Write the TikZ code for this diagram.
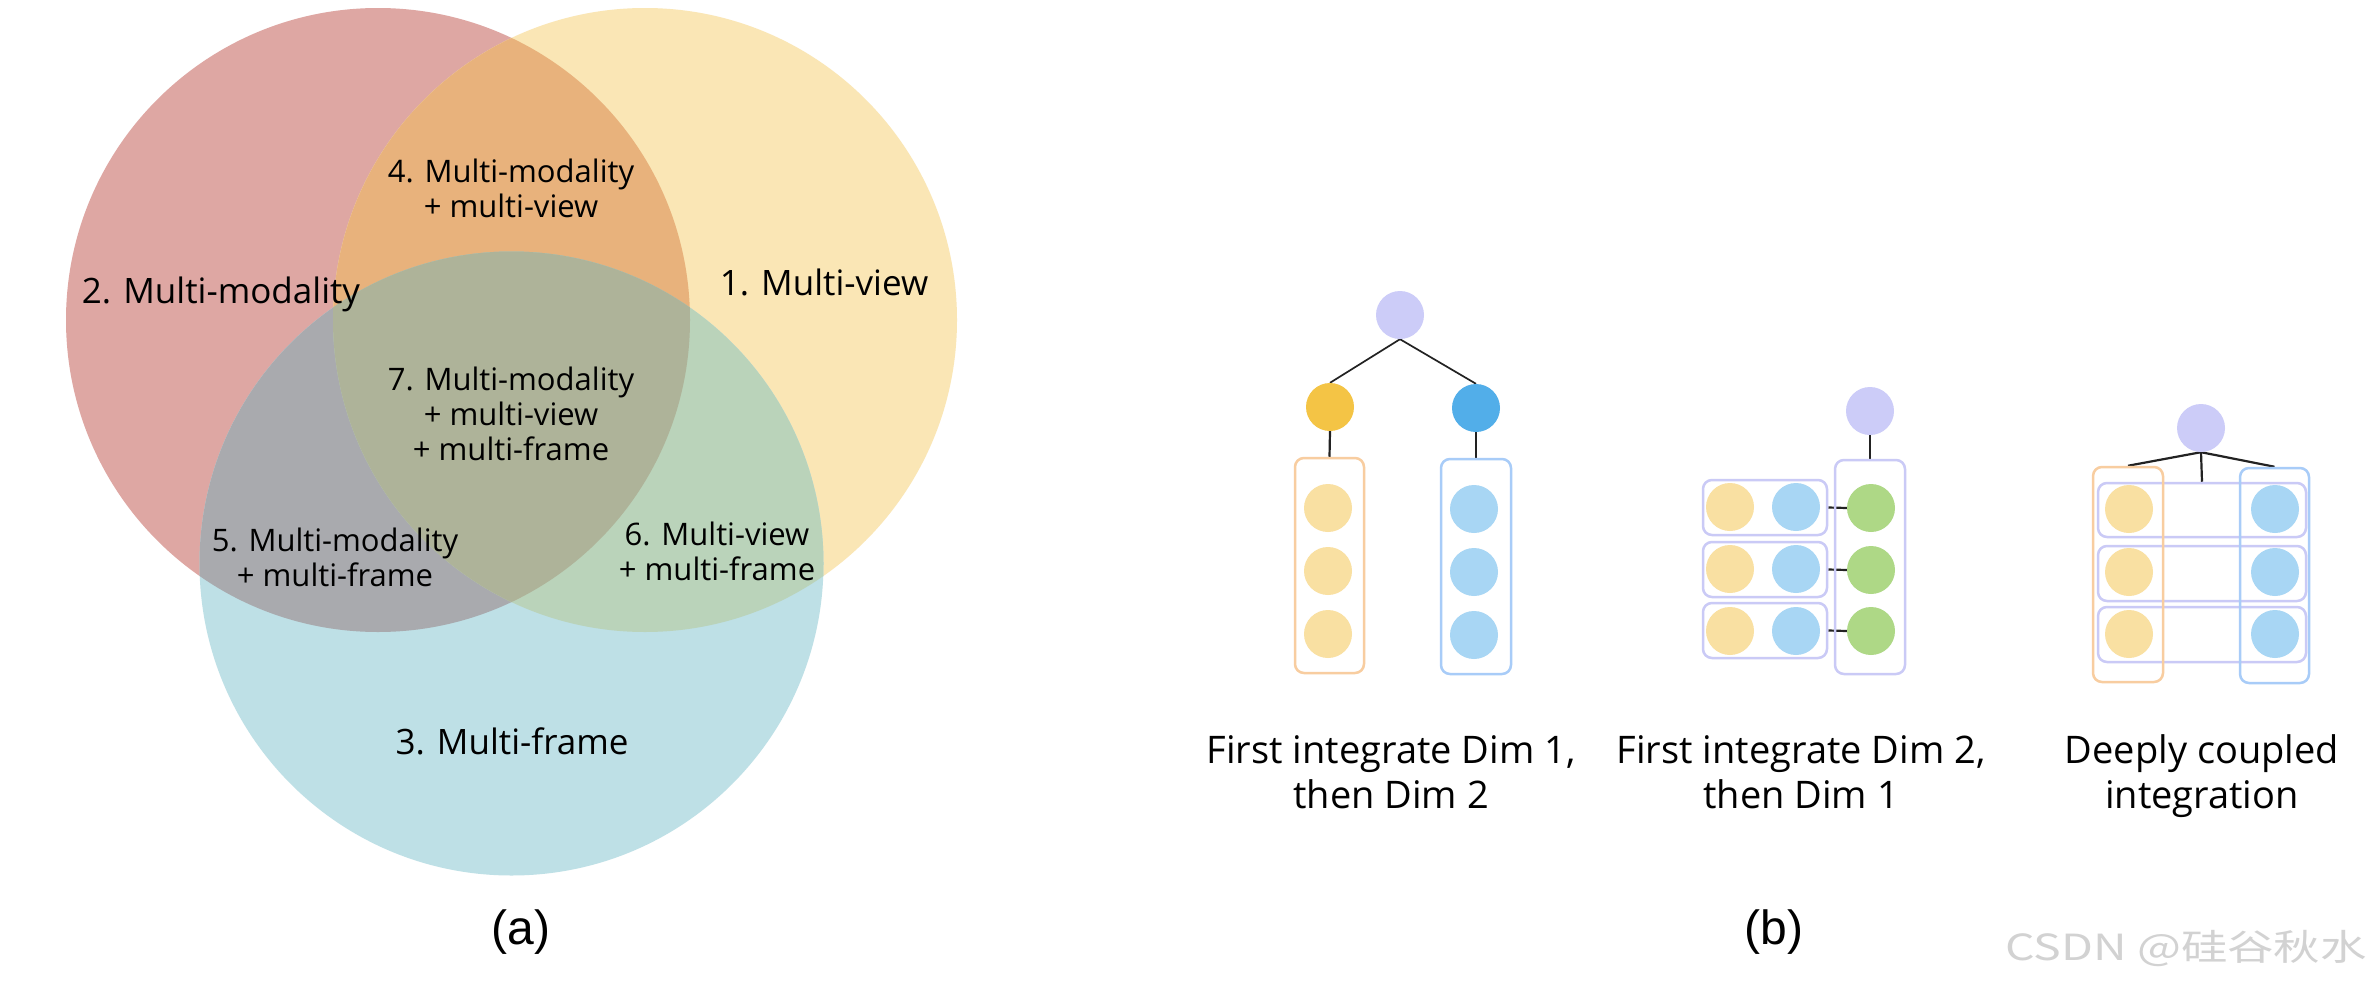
\documentclass[tikz,border=0pt]{standalone}
\usepackage{fontspec}
\usepackage{graphicx}
\setmainfont{Open Sans}
\newfontfamily\arialfont{Liberation Sans}
\newfontfamily\cjkfont{Noto Sans CJK SC}
\usetikzlibrary{backgrounds}
\definecolor{cRed}{HTML}{DEA7A3}
\definecolor{cYel}{HTML}{FAE6B5}
\definecolor{cBlu}{HTML}{BEE0E6}
\definecolor{cRY}{HTML}{E8B27C}
\definecolor{cRB}{HTML}{A9AAAE}
\definecolor{cYB}{HTML}{BAD3BA}
\definecolor{cAll}{HTML}{AEB399}
\definecolor{cPurple}{HTML}{CCCCF8}
\definecolor{cGold}{HTML}{F4C445}
\definecolor{cDeepBlue}{HTML}{52AEE9}
\definecolor{cLightYel}{HTML}{F9E0A2}
\definecolor{cLightBlue}{HTML}{A8D6F4}
\definecolor{cGreen}{HTML}{AED886}
\definecolor{cOrangeLine}{HTML}{F8CDA0}
\definecolor{cBlueLine}{HTML}{A8CCF8}
\definecolor{cPurpleLine}{HTML}{CACAF6}
\definecolor{cLine}{HTML}{222222}
\definecolor{cWater}{HTML}{D2D2D2}
\begin{document}
\begin{tikzpicture}[x=1pt,y=-1pt,
  dot/.style={circle, inner sep=0pt, minimum size=48pt},
  pdot/.style={dot, fill=cPurple},
  golddot/.style={dot, fill=cGold},
  deepbluedot/.style={dot, fill=cDeepBlue},
  ydot/.style={dot, fill=cLightYel},
  lbdot/.style={dot, fill=cLightBlue},
  grdot/.style={dot, fill=cGreen},
  orangebox/.style={draw=cOrangeLine, line width=2.5pt, rounded corners=9pt, inner sep=0pt},
  bluebox/.style={draw=cBlueLine, line width=2.5pt, rounded corners=9pt, inner sep=0pt},
  purplebox/.style={draw=cPurpleLine, line width=2.5pt, rounded corners=9pt, inner sep=0pt},
  link/.style={draw=cLine, line width=2.2pt},
  thinlink/.style={draw=cLine, line width=1.7pt},
  vlab/.style={align=center, inner sep=0pt, font=\fontsize{31}{35}\selectfont},
  vbig/.style={align=center, inner sep=0pt, font=\fontsize{35}{40}\selectfont},
  caption/.style={align=center, inner sep=0pt, font=\fontsize{38}{45}\selectfont},
  panel/.style={inner sep=0pt, anchor=base, font=\arialfont\fontsize{48}{56}\selectfont}
]
\useasboundingbox (0,0) rectangle (2370,988);
\begin{pgfonlayer}{background}
  \fill[white] (0,0) rectangle (2370,988);
\end{pgfonlayer}

% ---------------- Venn diagram (a) ----------------
\fill[cRed] (378,320) circle[radius=312pt];
\fill[cYel] (645,320) circle[radius=312pt];
\fill[cBlu] (511.5,563.5) circle[radius=312pt];
\begin{scope}
  \clip (378,320) circle[radius=312pt];
  \fill[cRY] (645,320) circle[radius=312pt];
  \fill[cRB] (511.5,563.5) circle[radius=312pt];
\end{scope}
\begin{scope}
  \clip (645,320) circle[radius=312pt];
  \fill[cYB] (511.5,563.5) circle[radius=312pt];
\end{scope}
\begin{scope}
  \clip (378,320) circle[radius=312pt];
  \clip (645,320) circle[radius=312pt];
  \fill[cAll] (511.5,563.5) circle[radius=312pt];
\end{scope}

\node[vbig] (l1) at (824,287) {\strut 1. Multi-view};
\node[vbig] (l2) at (221,295) {\strut 2. Multi-modality};
\node[vbig] (l3) at (512,746) {\strut 3. Multi-frame};
\node[vlab] (l4) at (511,192.5) {\strut 4. Multi-modality\\\strut + multi-view};
\node[vlab] (l5) at (335,561.5) {\strut 5. Multi-modality\\\strut + multi-frame};
\node[vlab] (l6) at (717,555.5) {\strut 6. Multi-view\\\strut + multi-frame};
\node[vlab] (l7) at (511,418) {\strut 7. Multi-modality\\\strut + multi-view\\\strut + multi-frame};
\node[panel] (pa) at (521,944) {(a)};

% ---------------- Panel (b), scheme 1 ----------------
\node[pdot] (p1) at (1400,315) {};
\node[golddot] (g1) at (1330,407) {};
\node[deepbluedot] (d1) at (1476,408) {};
\node[orangebox, minimum width=69pt, minimum height=215pt] (ob1) at (1329.5,565.5) {};
\node[bluebox, minimum width=70pt, minimum height=215pt] (bb1) at (1476,566.5) {};
\node[ydot] (y11) at (1328,508) {};
\node[ydot] (y12) at (1328,571) {};
\node[ydot] (y13) at (1328,634) {};
\node[lbdot] (c11) at (1474,509) {};
\node[lbdot] (c12) at (1474,572) {};
\node[lbdot] (c13) at (1474,635) {};
\begin{pgfonlayer}{background}
  \draw[thinlink] (p1.south) -- (g1.north);
  \draw[thinlink] (p1.south) -- (d1.north);
  \draw[link] (g1.south) -- (ob1.north);
  \draw[link] (d1.south) -- (bb1.north);
\end{pgfonlayer}

% ---------------- Panel (b), scheme 2 ----------------
\node[pdot] (p2) at (1870,411) {};
\node[purplebox, minimum width=70pt, minimum height=214pt] (tb2) at (1870,567) {};
\node[purplebox, minimum width=124pt, minimum height=55pt] (r21) at (1765,507.5) {};
\node[purplebox, minimum width=124pt, minimum height=55pt] (r22) at (1765,569.5) {};
\node[purplebox, minimum width=124pt, minimum height=55pt] (r23) at (1765,630.5) {};
\node[ydot] (y21) at (1730,507) {};
\node[ydot] (y22) at (1730,569) {};
\node[ydot] (y23) at (1730,631) {};
\node[lbdot] (c21) at (1796,507) {};
\node[lbdot] (c22) at (1796,569) {};
\node[lbdot] (c23) at (1796,631) {};
\node[grdot] (e21) at (1871,508) {};
\node[grdot] (e22) at (1871,570) {};
\node[grdot] (e23) at (1871,631) {};
\begin{pgfonlayer}{background}
  \draw[link] (p2.south) -- (tb2.north);
  \draw[link] (r21.east) -- (e21.west);
  \draw[link] (r22.east) -- (e22.west);
  \draw[link] (r23.east) -- (e23.west);
\end{pgfonlayer}

% ---------------- Panel (b), scheme 3 ----------------
\node[pdot] (p3) at (2201,428) {};
\node[purplebox, minimum width=208pt, minimum height=54pt] (r31) at (2202,510) {};
\node[purplebox, minimum width=208pt, minimum height=55pt] (r32) at (2202,573.5) {};
\node[purplebox, minimum width=208pt, minimum height=55pt] (r33) at (2202,634.5) {};
\node[orangebox, minimum width=70pt, minimum height=215pt] (ob3) at (2128,574.5) {};
\node[bluebox, minimum width=69pt, minimum height=215pt] (bb3) at (2274.5,575.5) {};
\node[ydot] (y31) at (2129,509) {};
\node[ydot] (y32) at (2129,572) {};
\node[ydot] (y33) at (2129,634) {};
\node[lbdot] (c31) at (2275,509) {};
\node[lbdot] (c32) at (2275,572) {};
\node[lbdot] (c33) at (2275,634) {};
\begin{pgfonlayer}{background}
  \draw[link] (p3.south) -- (ob3.north);
  \draw[link] (p3.south) -- (bb3.north);
  \draw[link] (p3.south) -- (r31.north);
\end{pgfonlayer}

% ---------------- captions ----------------
\node[caption] (t1) at (1391,776.5) {\strut First integrate Dim 1,\\\strut then Dim 2};
\node[caption] (t2) at (1801,776.5) {\strut First integrate Dim 2,\\\strut then Dim 1};
\node[caption] (t3) at (2202,777) {\strut Deeply coupled\\\strut integration};
\node[panel] (pb) at (1774,944) {(b)};
\node[inner sep=0pt, text=cWater, font=\cjkfont\fontsize{36}{42}\selectfont] (wm) at (2186,949) {\scalebox{1.29}[1]{CSDN @硅谷秋水}};
\end{tikzpicture}
\end{document}
